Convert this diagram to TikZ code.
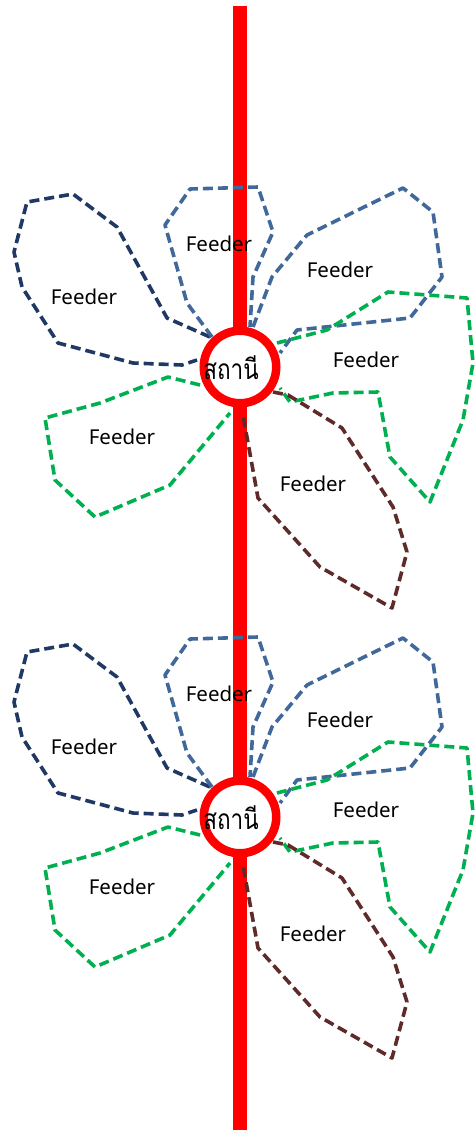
\documentclass[tikz,border=0pt]{standalone}
\usepackage{fontspec}
\setmainfont{Noto Sans}
\newfontfamily\thaifont[Script=Thai]{Loma}
\definecolor{navyc}{HTML}{203864}
\definecolor{bluec}{HTML}{41689A}
\definecolor{greenc}{HTML}{00B050}
\definecolor{brownc}{HTML}{5E2A2A}
\definecolor{redc}{HTML}{FF0000}
\tikzset{
  petal/.style={line width=3.6pt, dash pattern=on 10pt off 5pt, line join=round},
  lbl/.style={font=\fontsize{20.5}{22}\selectfont, inner sep=0pt, text=black},
  station/.style={circle, draw=redc, line width=8.5pt, fill=white, minimum size=72.5pt, inner sep=0pt},
  stlbl/.style={font=\thaifont\fontsize{22.5}{24}\selectfont, inner sep=0pt, text=black},
  railline/.style={draw=redc, line width=14pt}
}
\newcommand\myflower[2]{%
  \begin{scope}[yshift=#1]
    \draw[petal, navyc] (210,337) -- (167,318) -- (117,227) -- (73,194) -- (27,202) -- (14,252) -- (22,287) -- (58,343) -- (133,363) -- (182,365) -- (197,360);
    \draw[petal, bluec] (212,337) -- (187,303) -- (165,225) -- (190,189) -- (258,187) -- (273,232) -- (253,277) -- (250,327);
    \draw[petal, bluec] (253,327) -- (272,277) -- (307,235) -- (403,188) -- (433,212) -- (442,277) -- (410,318) -- (297,330) -- (280,353);
    \draw[petal, greenc] (277,343) -- (327,330) -- (388,292) -- (467,298) -- (473,363) -- (463,420) -- (430,502) -- (390,457) -- (378,392) -- (333,393) -- (290,402) -- (280,388);
    \draw[petal, brownc] (273,392) -- (288,395) -- (342,428) -- (393,507) -- (407,552) -- (392,608) -- (320,567) -- (258,498) -- (243,415);
    \draw[petal, greenc] (200,385) -- (168,377) -- (100,403) -- (45,418) -- (55,480) -- (95,517) -- (170,485) -- (230,413);
    \node[station] (st#2) at (240,367) {};
    \node[stlbl] (stl#2) at (231,368) {\scalebox{1}[1.25]{สถานี}};
    \node[lbl] (f1#2) at (84,297) {Feeder};
    \node[lbl] (f2#2) at (219,244) {Feeder};
    \node[lbl] (f3#2) at (340,270) {Feeder};
    \node[lbl] (f4#2) at (366,360) {Feeder};
    \node[lbl] (f5#2) at (122,437) {Feeder};
    \node[lbl] (f6#2) at (313,484) {Feeder};
  \end{scope}}
\begin{document}
\begin{tikzpicture}[x=1pt,y=-1pt]
  \useasboundingbox (0,0) rectangle (475,1130);
  \coordinate (top) at (239.5,6);
  \coordinate (bot) at (239.5,1135);
  \draw[railline] (top) -- (bot);
  \myflower{0pt}{a}
  \myflower{-450pt}{b}
\end{tikzpicture}
\end{document}
